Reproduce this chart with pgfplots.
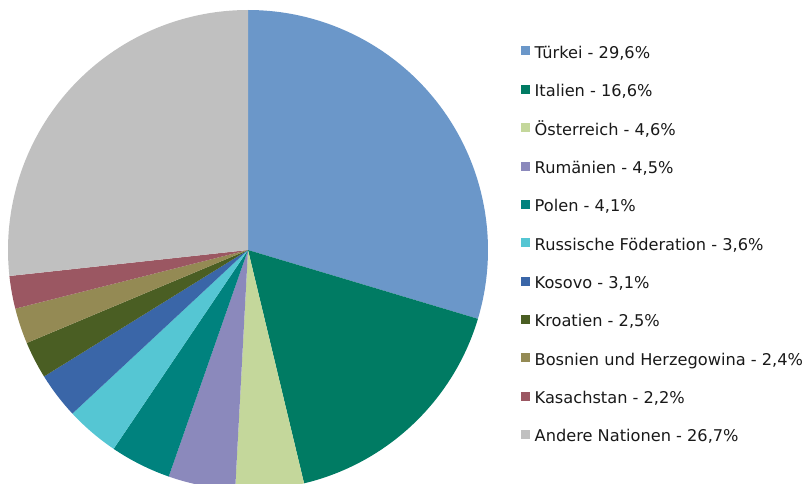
\documentclass[border=0pt]{standalone}
\usepackage{fontspec}
\setmainfont{DejaVu Sans}
\usepackage{pgfplots}
\pgfplotsset{compat=1.18}
\usepackage{pgfplotstable}

\definecolor{cTR}{RGB}{107,151,201}
\definecolor{cIT}{RGB}{0,123,99}
\definecolor{cAT}{RGB}{196,215,155}
\definecolor{cRO}{RGB}{139,137,188}
\definecolor{cPL}{RGB}{0,130,126}
\definecolor{cRU}{RGB}{85,198,211}
\definecolor{cKO}{RGB}{58,102,168}
\definecolor{cHR}{RGB}{74,94,35}
\definecolor{cBA}{RGB}{148,138,84}
\definecolor{cKZ}{RGB}{155,87,98}
\definecolor{cOT}{RGB}{192,192,192}

\pgfplotstableread[col sep=semicolon]{
name;value;color
Türkei;29.6;cTR
Italien;16.6;cIT
Österreich;4.6;cAT
Rumänien;4.5;cRO
Polen;4.1;cPL
Russische Föderation;3.6;cRU
Kosovo;3.1;cKO
Kroatien;2.5;cHR
Bosnien und Herzegowina;2.4;cBA
Kasachstan;2.2;cKZ
Andere Nationen;26.7;cOT
}\datatable

\begin{document}
\begin{tikzpicture}[x=1pt,y=1pt]
\useasboundingbox (0,0) rectangle (806,483);
\begin{axis}[at={(8pt,-7pt)}, anchor=south west,
  width=480pt, height=480pt, scale only axis,
  xmin=-1, xmax=1, ymin=-1, ymax=1, hide axis, clip=false]
\pgfmathsetmacro\cum{0}
\pgfplotsforeachungrouped \i in {0,...,10}{%
  \pgfplotstablegetelem{\i}{value}\of\datatable \let\vv\pgfplotsretval
  \pgfplotstablegetelem{\i}{color}\of\datatable \let\cc\pgfplotsretval
  \pgfmathsetmacro\aS{90-\cum/99.9*360}%
  \pgfmathsetmacro\cum{\cum+\vv}%
  \pgfmathsetmacro\aE{90-\cum/99.9*360}%
  \edef\temp{\noexpand\fill[\cc] (axis cs:0,0) -- (axis cs:{cos(\aS)},{sin(\aS)}) arc[start angle=\aS, end angle=\aE, radius=240pt] -- cycle;}%
  \temp
}
\end{axis}
\pgfkeys{/pgf/number format/.cd, assume math mode=true, use comma, fixed, fixed zerofill, precision=1}
\foreach \i in {0,...,10}{%
  \pgfplotstablegetelem{\i}{value}\of\datatable \let\vv\pgfplotsretval
  \pgfplotstablegetelem{\i}{color}\of\datatable \let\cc\pgfplotsretval
  \pgfplotstablegetelem{\i}{name}\of\datatable \let\nn\pgfplotsretval
  \pgfmathsetmacro\yc{483-(51+38.35*\i)}
  \pgfmathsetmacro\yb{483-(58.3+38.35*\i)}
  \fill[\cc] (521,\yc-4.5) rectangle (530,\yc+4.5);
  \node[anchor=base west, inner sep=0pt, font=\fontsize{16.2pt}{19pt}\selectfont, text=black!90] at (534.5,\yb) {\nn{} - \pgfmathprintnumber{\vv}\%};
}
\end{tikzpicture}
\end{document}
